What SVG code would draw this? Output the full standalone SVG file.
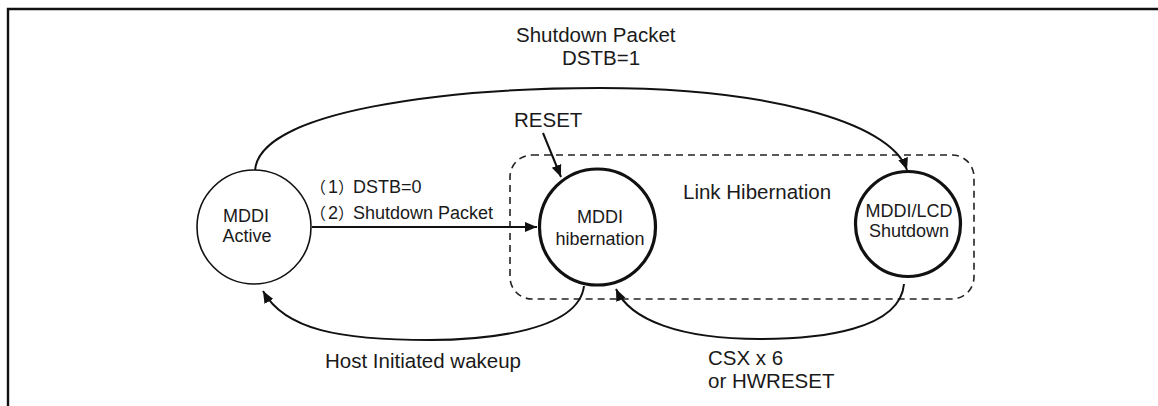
<svg xmlns="http://www.w3.org/2000/svg" width="1158" height="406" viewBox="0 0 1158 406">
<style>
.lbl{font-family:"Liberation Sans",Arial,sans-serif;font-size:20.5px;fill:#1a1a1a}
.nt{font-family:"Liberation Sans",Arial,sans-serif;font-size:18px;fill:#1a1a1a;text-anchor:middle}
.sm{font-family:"Liberation Sans",Arial,sans-serif;font-size:18px;fill:#1a1a1a}
.cjk{font-family:"Noto Sans CJK JP",sans-serif;font-size:16px}
.edge{fill:none;stroke:#111;stroke-width:2}
.thin{fill:#fff;stroke:#111;stroke-width:1.6}
.thick{fill:#fff;stroke:#111;stroke-width:3.2}
</style>
<defs>
<marker id="ah" viewBox="0 0 10 10" refX="10" refY="5" markerWidth="12" markerHeight="12" markerUnits="userSpaceOnUse" orient="auto">
<path d="M0,0.8 L10,5 L0,9.2 Z" fill="#111"/>
</marker>
</defs>
<rect width="1158" height="406" fill="#fff"/>
<path d="M8,406 V9 H1158" fill="none" stroke="#111" stroke-width="2.4"/>

<g id="group-link-hibernation">
<rect x="510" y="155" width="464" height="144" rx="22" ry="22" fill="none" stroke="#222" stroke-width="1.6" stroke-dasharray="7,5"/>
<text class="lbl" x="683" y="199">Link Hibernation</text>
</g>

<g id="connectors">
<path class="edge" d="M255,171 C258,110 450,88 600,88 C760,88 890,120 907,170" marker-end="url(#ah)"/>
<path class="edge" d="M312,227 H537" marker-end="url(#ah)"/>
<path class="edge" d="M543,133 L561,177" marker-end="url(#ah)"/>
<path class="edge" d="M584,286 C578,335 470,340 430,340 C340,340 285,330 263,291" marker-end="url(#ah)"/>
<path class="edge" d="M904,284 C900,330 820,339 760,339 C680,339 630,320 616,289" marker-end="url(#ah)"/>
<text class="lbl" x="516" y="42">Shutdown Packet</text>
<text class="lbl" x="562" y="65">DSTB=1</text>
<text class="lbl" x="514" y="127">RESET</text>
<text class="sm" x="310" y="193"><tspan class="cjk">（</tspan><tspan x="328">1</tspan><tspan class="cjk" x="338">）</tspan><tspan x="353">DSTB=0</tspan></text>
<text class="sm" x="310" y="219"><tspan class="cjk">（</tspan><tspan x="328">2</tspan><tspan class="cjk" x="338">）</tspan><tspan x="353">Shutdown Packet</tspan></text>
<text class="lbl" x="325" y="368">Host Initiated wakeup</text>
<text class="lbl" x="708" y="365">CSX x 6</text>
<text class="lbl" x="708" y="388">or HWRESET</text>
</g>

<g id="node-mddi-active">
<circle class="thin" cx="254" cy="227" r="57"/>
<text class="nt" x="246" y="222">MDDI</text>
<text class="nt" x="247" y="242">Active</text>
</g>

<g id="node-mddi-hibernation">
<circle class="thick" cx="597.5" cy="227" r="58"/>
<text class="nt" x="600" y="223">MDDI</text>
<text class="nt" x="600" y="245">hibernation</text>
</g>

<g id="node-mddi-lcd-shutdown">
<circle class="thick" cx="908" cy="224" r="52.5"/>
<text class="nt" x="909" y="217">MDDI/LCD</text>
<text class="nt" x="909" y="237">Shutdown</text>
</g>
</svg>
